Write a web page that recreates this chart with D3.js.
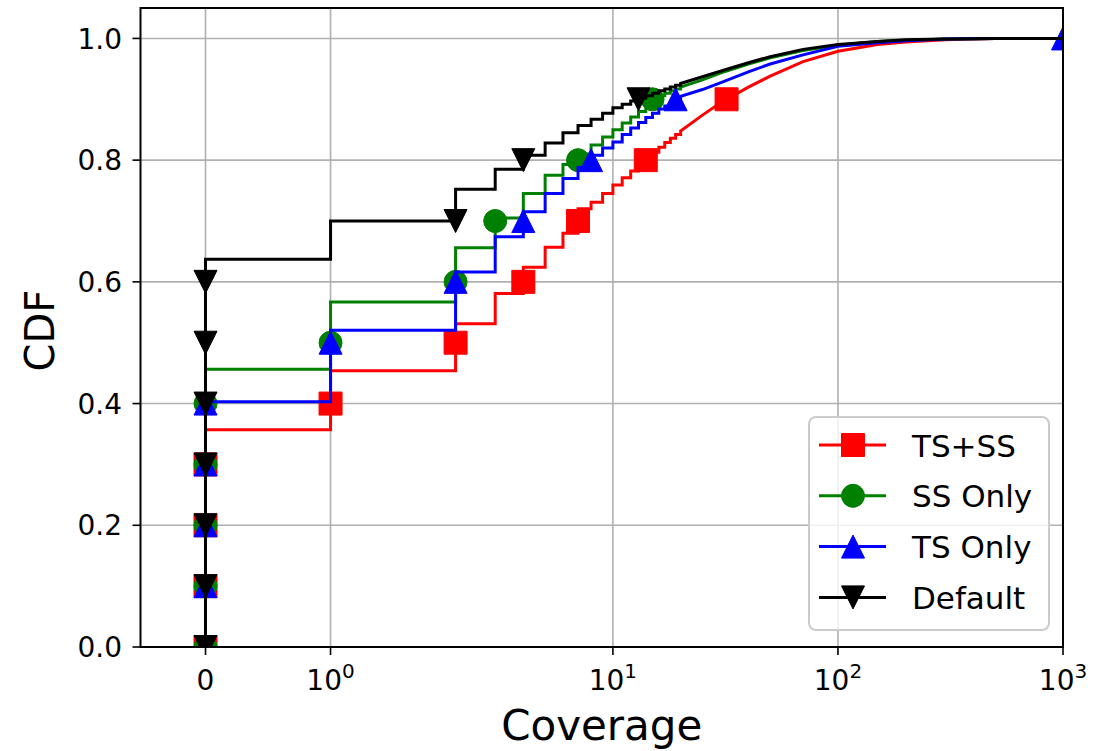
<!DOCTYPE html>
<html>
<head>
<meta charset="utf-8">
<script src="https://cdn.jsdelivr.net/npm/d3@7"></script>
<style>
  html, body { margin: 0; padding: 0; background: #ffffff; }
  svg { display: block; font-family: "DejaVu Sans", sans-serif; }
</style>
</head>
<body>
<div id="chart"></div>
<script>
// Coverage values at which the empirical CDFs step (first entry is the start of the curve at 0)
const coverage = [0, 0, 1, 2, 3, 4, 5, 6, 7, 8, 9, 10, 11, 12, 13, 14, 15, 16, 17, 18, 19, 20,
                  25, 30, 40, 50, 70, 100, 150, 200, 300, 500, 1000];

// Cumulative fraction at each coverage value, one array per configuration
const cdfTsSs = [0, 0.357, 0.454, 0.531, 0.581, 0.624, 0.657, 0.680, 0.720, 0.731, 0.745, 0.759, 0.771,
                 0.782, 0.792, 0.805, 0.813, 0.821, 0.829, 0.836, 0.842, 0.848,
                 0.874, 0.894, 0.920, 0.938, 0.962, 0.979, 0.990, 0.994, 0.998, 1.0, 1.0];
const cdfSsOnly = [0, 0.4565, 0.567, 0.656, 0.705, 0.745, 0.775, 0.793, 0.810, 0.825, 0.838, 0.850, 0.861,
                   0.871, 0.880, 0.893, 0.901, 0.906, 0.910, 0.914, 0.917, 0.920,
                   0.932, 0.943, 0.958, 0.968, 0.980, 0.989, 0.995, 0.997, 0.999, 1.0, 1.0];
const cdfTsOnly = [0, 0.403, 0.5205, 0.616, 0.674, 0.715, 0.745, 0.770, 0.788, 0.808, 0.820, 0.830, 0.842,
                   0.853, 0.862, 0.870, 0.877, 0.884, 0.889, 0.895, 0.901, 0.905,
                   0.916, 0.927, 0.945, 0.958, 0.973, 0.987, 0.993, 0.996, 0.999, 1.0, 1.0];
const cdfDefault = [0, 0.637, 0.700, 0.752, 0.785, 0.808, 0.828, 0.845, 0.857, 0.867, 0.877, 0.886, 0.892,
                    0.897, 0.902, 0.906, 0.910, 0.914, 0.917, 0.920, 0.923, 0.926,
                    0.937, 0.946, 0.960, 0.970, 0.982, 0.990, 0.995, 0.998, 0.999, 1.0, 1.0];

// Marked deciles: coverage value reached at CDF = 0.0, 0.1, 0.2, ...
const decileLevels = [0, 0.1, 0.2, 0.3, 0.4, 0.5, 0.6, 0.7, 0.8, 0.9, 1.0];
const decilesTsSs = [0, 0, 0, 0, 1, 2, 4, 7, 14, 32];
const decilesSsOnly = [0, 0, 0, 0, 0, 1, 2, 3, 7, 15];
const decilesTsOnly = [0, 0, 0, 0, 0, 1, 2, 4, 8, 19, 1000];
const decilesDefault = [0, 0, 0, 0, 0, 0, 0, 2, 4, 13];

const seriesNames = ["TS+SS", "SS Only", "TS Only", "Default"];
const seriesColors = ["#ff0000", "#008000", "#0000ff", "#000000"];
const seriesMarkers = ["square", "circle", "triangleUp", "triangleDown"];

const xTickValues = [0, 1, 10, 100, 1000];
const yTickValues = [0, 0.2, 0.4, 0.6, 0.8, 1.0];
const xDomain = [-0.52, 1000];
const yDomain = [0, 1.05];
// Integer steps are resolved up to this coverage; beyond it they are drawn as a line
const stepEnd = 20;

const series = seriesNames.map((name, i) => ({
  name,
  color: seriesColors[i],
  marker: seriesMarkers[i],
  cdf: [cdfTsSs, cdfSsOnly, cdfTsOnly, cdfDefault][i],
  deciles: [decilesTsSs, decilesSsOnly, decilesTsOnly, decilesDefault][i]
}));

const W = 1114, H = 751;
const plot = { left: 140.5, right: 1063, top: 8, bottom: 647 };

// Symmetric log transform (linear below the threshold, log10 above it)
const LINTHRESH = 2, LINSCALE = 1, BASE = 10;
const linAdj = LINSCALE / (1 - 1 / BASE);
function symlog(v) {
  const a = Math.abs(v);
  const t = a <= LINTHRESH ? a * linAdj : LINTHRESH * (linAdj + Math.log(a / LINTHRESH) / Math.log(BASE));
  return Math.sign(v) * t;
}
const xLin = d3.scaleLinear().domain(xDomain.map(symlog)).range([plot.left, plot.right]);
const x = v => xLin(symlog(v));
const y = d3.scaleLinear().domain(yDomain).range([plot.bottom, plot.top]);

const svg = d3.select("#chart").append("svg").attr("width", W).attr("height", H);

svg.append("defs").append("clipPath").attr("id", "plotClip")
  .append("rect")
  .attr("x", plot.left).attr("y", plot.top)
  .attr("width", plot.right - plot.left).attr("height", plot.bottom - plot.top);

// Grid
const grid = svg.append("g").attr("stroke", "#b0b0b0").attr("stroke-width", 1.6);
grid.selectAll("line.gx").data(xTickValues).join("line")
  .attr("x1", d => x(d)).attr("x2", d => x(d))
  .attr("y1", plot.top).attr("y2", plot.bottom);
grid.selectAll("line.gy").data(yTickValues).join("line")
  .attr("x1", plot.left).attr("x2", plot.right)
  .attr("y1", d => y(d)).attr("y2", d => y(d));

// Marker shapes
const MS = 23;
function markerPath(type, s) {
  const h = s / 2;
  switch (type) {
    case "square": return `M${-h},${-h}H${h}V${h}H${-h}Z`;
    case "circle": return `M${h},0A${h},${h} 0 1,1 ${-h},0A${h},${h} 0 1,1 ${h},0Z`;
    case "triangleUp": return `M0,${-h}L${h},${h}L${-h},${h}Z`;
    case "triangleDown": return `M0,${h}L${h},${-h}L${-h},${-h}Z`;
  }
}

function cdfPoints(cdf) {
  const pts = [];
  for (let i = 0; i < coverage.length; i++) {
    if (i > 0 && coverage[i] <= stepEnd) pts.push([coverage[i], cdf[i - 1]]);
    pts.push([coverage[i], cdf[i]]);
  }
  return pts;
}

const line = d3.line().x(d => x(d[0])).y(d => y(d[1]));
const dataG = svg.append("g").attr("clip-path", "url(#plotClip)");

series.forEach(s => {
  dataG.append("path")
    .attr("d", line(cdfPoints(s.cdf)))
    .attr("fill", "none")
    .attr("stroke", s.color)
    .attr("stroke-width", 3)
    .attr("stroke-linejoin", "miter");
  dataG.append("g").selectAll("path")
    .data(s.deciles.map((v, k) => [v, decileLevels[k]]))
    .join("path")
    .attr("transform", d => `translate(${x(d[0])},${y(d[1])})`)
    .attr("d", markerPath(s.marker, MS))
    .attr("fill", s.color)
    .attr("stroke", s.color)
    .attr("stroke-width", 1);
});

// Spines
svg.append("rect")
  .attr("x", plot.left).attr("y", plot.top)
  .attr("width", plot.right - plot.left).attr("height", plot.bottom - plot.top)
  .attr("fill", "none").attr("stroke", "#000").attr("stroke-width", 2);

// X ticks
const TICK = 8;
const xt = svg.append("g");
xt.selectAll("line").data(xTickValues).join("line")
  .attr("x1", d => x(d)).attr("x2", d => x(d))
  .attr("y1", plot.bottom).attr("y2", plot.bottom + TICK)
  .attr("stroke", "#000").attr("stroke-width", 1.6);
xTickValues.forEach(v => {
  const t = xt.append("text")
    .attr("x", x(v)).attr("y", 690)
    .attr("text-anchor", "middle")
    .attr("font-size", 28).attr("fill", "#000");
  if (v === 0) {
    t.text("0");
  } else {
    t.append("tspan").text("10");
    t.append("tspan").attr("dy", -12).attr("font-size", 20).text(String(Math.round(Math.log10(v))));
  }
});

// Y ticks
const yt = svg.append("g");
yt.selectAll("line").data(yTickValues).join("line")
  .attr("x1", plot.left - TICK).attr("x2", plot.left)
  .attr("y1", d => y(d)).attr("y2", d => y(d))
  .attr("stroke", "#000").attr("stroke-width", 1.6);
yt.selectAll("text").data(yTickValues).join("text")
  .attr("x", 122).attr("y", d => y(d))
  .attr("dy", "0.36em")
  .attr("text-anchor", "end")
  .attr("font-size", 28).attr("fill", "#000")
  .text(d3.format(".1f"));

// Axis titles
svg.append("text")
  .attr("x", (plot.left + plot.right) / 2).attr("y", 740)
  .attr("text-anchor", "middle").attr("font-size", 42).attr("fill", "#000")
  .text("Coverage");
svg.append("text")
  .attr("transform", `translate(54,${(plot.top + plot.bottom) / 2 + 3}) rotate(-90)`)
  .attr("text-anchor", "middle").attr("font-size", 40).attr("fill", "#000")
  .text("CDF");

// Legend
const lg = svg.append("g");
lg.append("rect")
  .attr("x", 809).attr("y", 417).attr("width", 240).attr("height", 213)
  .attr("rx", 7).attr("ry", 7)
  .attr("fill", "#ffffff").attr("fill-opacity", 0.8)
  .attr("stroke", "#cccccc").attr("stroke-width", 2);
series.forEach((s, i) => {
  const cy = 445 + i * 50.8;
  lg.append("line")
    .attr("x1", 819).attr("x2", 886).attr("y1", cy).attr("y2", cy)
    .attr("stroke", s.color).attr("stroke-width", 3);
  lg.append("path")
    .attr("transform", `translate(853,${cy})`)
    .attr("d", markerPath(s.marker, MS))
    .attr("fill", s.color).attr("stroke", s.color).attr("stroke-width", 1);
  lg.append("text")
    .attr("x", 912).attr("y", cy + 11.5)
    .attr("font-size", 31).attr("fill", "#000")
    .text(s.name);
});
</script>
</body>
</html>
